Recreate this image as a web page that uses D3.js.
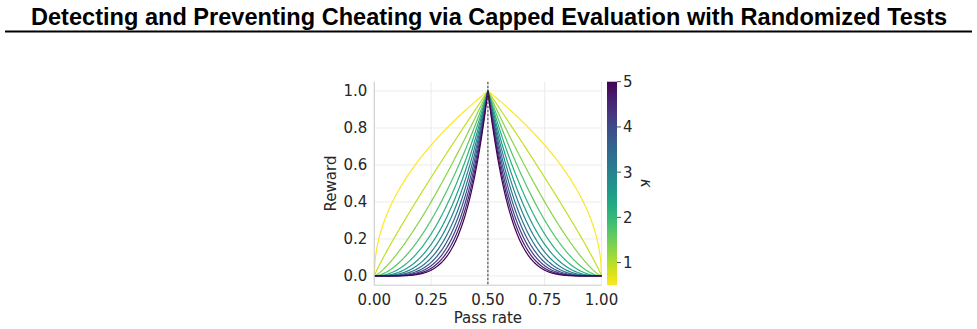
<!DOCTYPE html>
<html>
<head>
<meta charset="utf-8">
<script src="https://cdn.jsdelivr.net/npm/d3@7"></script>
<style>
  body { margin: 0; background: #fff; }
  svg { display: block; }
  text { font-family: "DejaVu Sans", sans-serif; fill: #262626; }
</style>
</head>
<body>
<svg id="chart" width="977" height="329"></svg>
<script>
// kappa values of the plotted curves (yellow = low kappa, purple = high)
const kappas = [0.5, 0.91, 1.32, 1.73, 2.14, 2.55, 2.95, 3.36, 3.77, 4.18, 4.59, 5.0]
const xTicks = [0, 0.25, 0.5, 0.75, 1]
const yTicks = [0, 0.2, 0.4, 0.6, 0.8, 1.0]
const cbTicks = [1, 2, 3, 4, 5]
const targetPass = 0.5

const svg = d3.select('#chart')

// title and rule
svg.append('text')
  .attr('x', 489).attr('y', 25)
  .attr('text-anchor', 'middle')
  .attr('textLength', 916).attr('lengthAdjust', 'spacingAndGlyphs')
  .style('font-family', '"Liberation Sans", sans-serif')
  .style('font-weight', 'bold').style('font-size', '23px').style('fill', '#000')
  .text('Detecting and Preventing Cheating via Capped Evaluation with Randomized Tests')
svg.append('line')
  .attr('x1', 5).attr('x2', 972).attr('y1', 31.5).attr('y2', 31.5)
  .attr('stroke', '#000').attr('stroke-width', 2)

const plot = { left: 374.3, right: 601.5, top: 81.7, bottom: 285.2 }
const x = d3.scaleLinear().domain([0, 1]).range([plot.left, plot.right])
const y = d3.scaleLinear().domain([-0.05, 1.05]).range([plot.bottom, plot.top])
const kMin = d3.min(kappas), kMax = d3.max(kappas)
const color = k => d3.interpolateViridis(1 - (k - kMin) / (kMax - kMin))

const g = svg.append('g')

// grid
g.selectAll('.gx').data(xTicks).join('line')
  .attr('x1', d => x(d)).attr('x2', d => x(d))
  .attr('y1', plot.top).attr('y2', plot.bottom)
  .attr('stroke', '#ebebeb').attr('stroke-width', 1)
g.selectAll('.gy').data(yTicks).join('line')
  .attr('x1', plot.left).attr('x2', plot.right)
  .attr('y1', d => y(d)).attr('y2', d => y(d))
  .attr('stroke', '#ebebeb').attr('stroke-width', 1)

// reward curve: peaks at the target pass rate, decays with exponent kappa
const reward = (p, k) => p <= targetPass
  ? Math.pow(p / targetPass, k)
  : Math.pow((1 - p) / (1 - targetPass), k)
const grid = d3.range(0, 1.0001, 0.0025)
const line = d3.line().x(d => x(d[0])).y(d => y(d[1]))

g.selectAll('.curve').data(kappas).join('path')
  .attr('fill', 'none')
  .attr('stroke', d => color(d))
  .attr('stroke-width', 1.2)
  .attr('d', k => line(grid.map(p => [p, reward(p, k)])))

// target line
g.append('line')
  .attr('x1', x(targetPass)).attr('x2', x(targetPass))
  .attr('y1', plot.top).attr('y2', plot.bottom)
  .attr('stroke', '#444').attr('stroke-width', 1.1)
  .attr('stroke-dasharray', '2.5,1.5')

// spines
g.append('line').attr('x1', plot.left).attr('x2', plot.left)
  .attr('y1', plot.top).attr('y2', plot.bottom).attr('stroke', '#cccccc')
g.append('line').attr('x1', plot.left).attr('x2', plot.right)
  .attr('y1', plot.bottom).attr('y2', plot.bottom).attr('stroke', '#cccccc')

// tick labels
g.selectAll('.xt').data(xTicks).join('text')
  .attr('x', d => x(d)).attr('y', plot.bottom + 20)
  .attr('text-anchor', 'middle').style('font-size', '15px')
  .text(d => d3.format('.2f')(d))
g.selectAll('.yt').data(yTicks).join('text')
  .attr('x', plot.left - 7).attr('y', d => y(d) + 5.5)
  .attr('text-anchor', 'end').style('font-size', '15px')
  .text(d => d3.format('.1f')(d))

svg.append('text')
  .attr('x', (plot.left + plot.right) / 2).attr('y', 323)
  .attr('text-anchor', 'middle').style('font-size', '15px')
  .text('Pass rate')
svg.append('text')
  .attr('transform', `translate(336,${(plot.top + plot.bottom) / 2}) rotate(-90)`)
  .attr('text-anchor', 'middle').style('font-size', '15px')
  .text('Reward')

// colorbar
const cb = { left: 607, width: 10 }
const cy = d3.scaleLinear().domain([kMin, kMax]).range([plot.bottom, plot.top])
const defs = svg.append('defs')
const grad = defs.append('linearGradient').attr('id', 'cbgrad')
  .attr('x1', 0).attr('y1', 1).attr('x2', 0).attr('y2', 0)
d3.range(0, 1.0001, 0.05).forEach(t => {
  grad.append('stop').attr('offset', t).attr('stop-color', d3.interpolateViridis(1 - t))
})
svg.append('rect')
  .attr('x', cb.left).attr('y', plot.top)
  .attr('width', cb.width).attr('height', plot.bottom - plot.top)
  .attr('fill', 'url(#cbgrad)')
const cbAxis = svg.append('g')
cbAxis.selectAll('line').data(cbTicks).join('line')
  .attr('x1', cb.left + cb.width).attr('x2', cb.left + cb.width + 4)
  .attr('y1', d => cy(d)).attr('y2', d => cy(d))
  .attr('stroke', '#262626').attr('stroke-width', 0.8)
cbAxis.selectAll('text').data(cbTicks).join('text')
  .attr('x', cb.left + cb.width + 6).attr('y', d => cy(d) + 5.5)
  .style('font-size', '15px')
  .text(d => d)
svg.append('text')
  .attr('transform', `translate(641,${(plot.top + plot.bottom) / 2}) rotate(90)`)
  .attr('text-anchor', 'middle').style('font-size', '15px').style('font-style', 'italic')
  .text('κ')
</script>
</body>
</html>
